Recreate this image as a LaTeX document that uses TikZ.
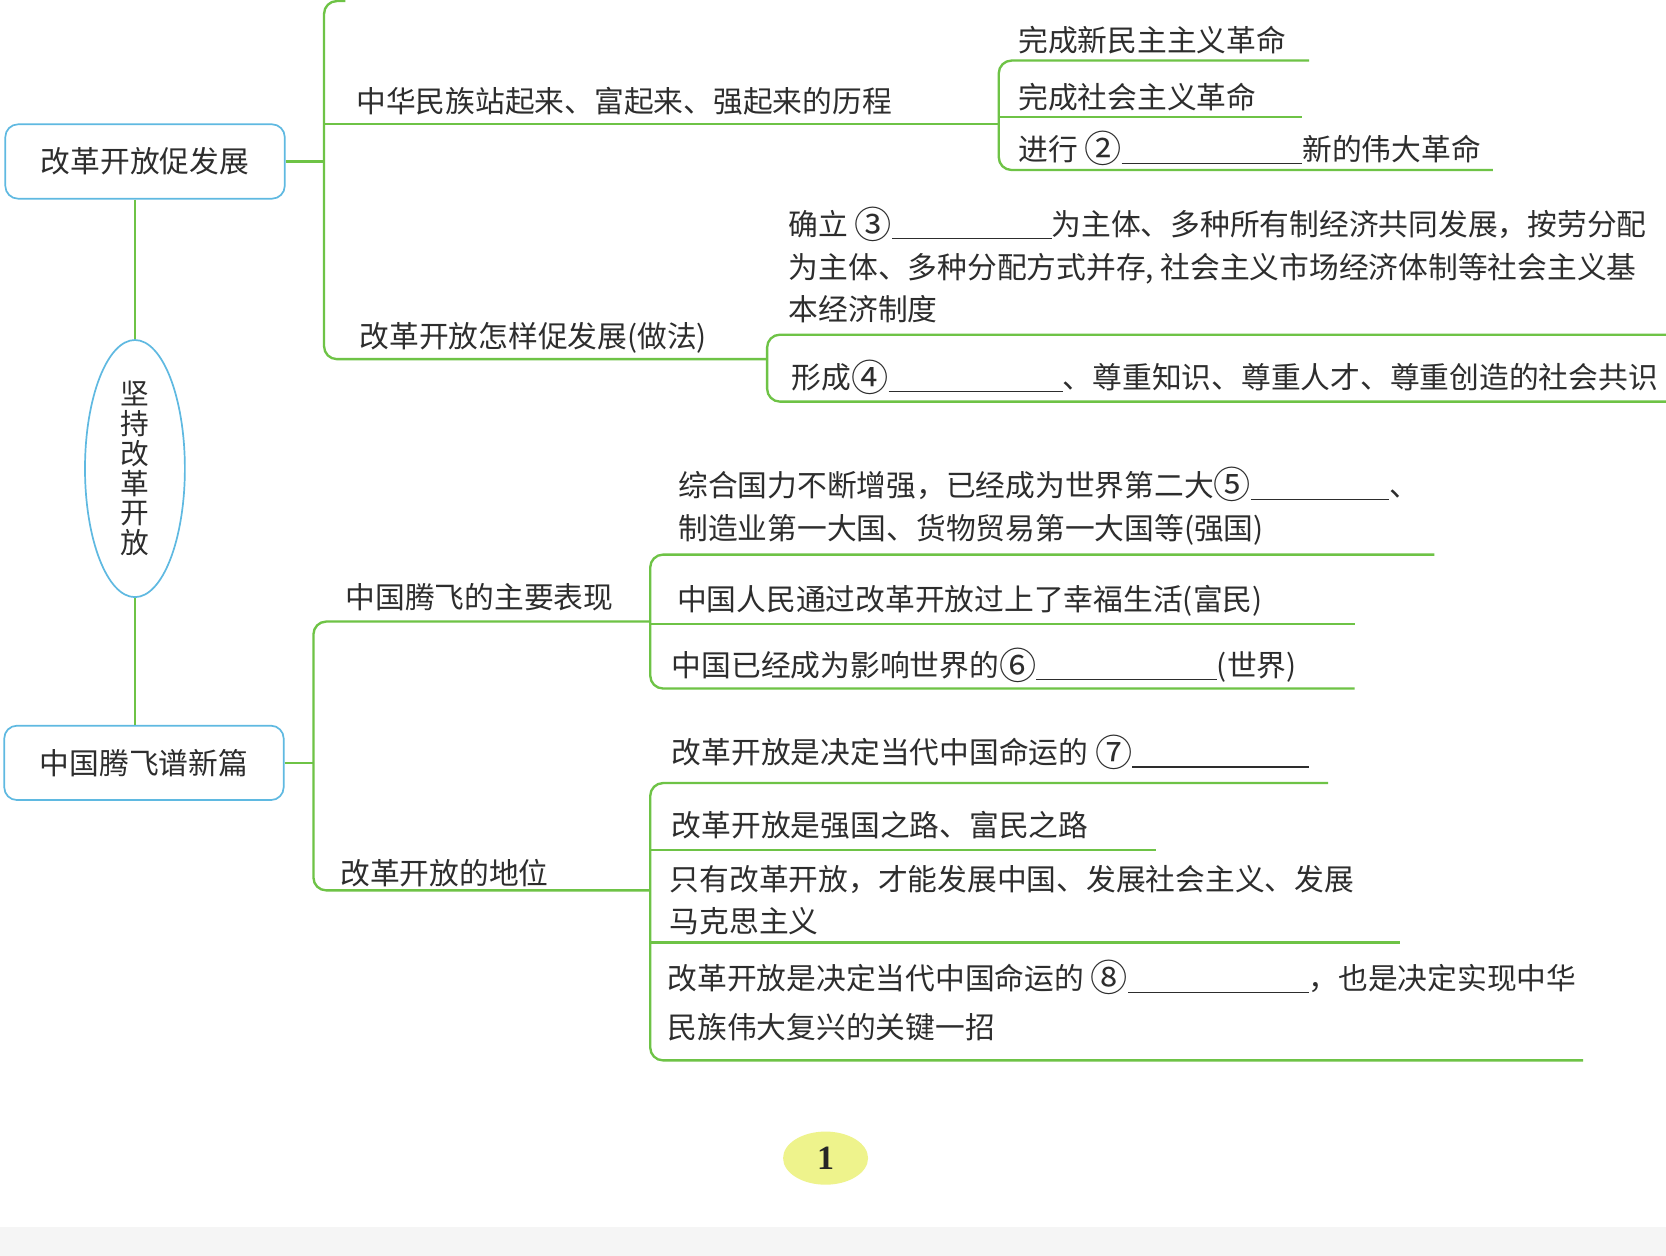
\documentclass[tikz,border=0pt]{standalone}
\usepackage{fontspec}
\newfontfamily\zh{Noto Sans CJK SC}
\newfontfamily\numfont{Liberation Serif}
\usetikzlibrary{shapes.geometric}
\definecolor{lgreen}{RGB}{110,195,70}
\definecolor{lblue}{RGB}{95,185,225}
\definecolor{txtc}{RGB}{45,45,45}
\definecolor{pgyellow}{RGB}{238,243,140}
\newcommand\zs{\rule[-0.12em]{0pt}{1em}}
\newcommand\blank[1]{\rule[-0.12em]{#1}{0.6pt}}
\newcommand\cnum[1]{\smash{\raisebox{-0.08em}{\scalebox{1.25}{#1}}}}
\begin{document}
\begin{tikzpicture}[x=0.5pt,y=-0.5pt,
  gl/.style={draw=lgreen, line width=1.1pt},
  topbox/.style={draw=lblue, line width=0.8pt, rounded corners=6pt, minimum width=131.5pt, minimum height=35pt, text=txtc, font=\zh\fontsize{14}{16}\selectfont},
  txt/.style={anchor=north west, inner sep=0pt, align=left, text=txtc, font=\zh\fontsize{14}{#1}\selectfont},
  txt/.default=20]
\useasboundingbox (0,0) rectangle (1568,1182);
\fill[white] (0,0) rectangle (1568,1182);
\fill[black!4] (0,1155) rectangle (1568,1182);

% main nodes
\node[topbox] (box1) at (136.5,152) {改革开放促发展};
\node[topbox] (box2) at (135.5,718) {中国腾飞谱新篇};
\node[draw=lblue, line width=0.8pt, ellipse, minimum width=47pt, minimum height=121pt, inner sep=0pt, align=center, text=txtc, font=\zh\fontsize{13.5}{14}\selectfont] (core) at (127,441) {坚\\持\\改\\革\\开\\放};

\draw[gl] (core.north |- box1.south) -- (core.north);
\draw[gl] (core.south) -- (core.south |- box2.north);

% branch A texts
\node[txt] (a1) at (335,81) {\zs 中华民族站起来、富起来、强起来的历程};
\node[txt] (a11) at (958,23) {\zs 完成新民主主义革命};
\node[txt] (a12) at (958,77) {\zs 完成社会主义革命};
\node[txt] (a13) at (958,126) {\zs 进行 \cnum{②}\blank{85pt}新的伟大革命};
\node[txt] (a2) at (338,302) {\zs 改革开放怎样促发展(做法)};
\node[txt=20] (a21) at (742,197) {\zs 确立 \cnum{③}\blank{75pt}为主体、多种所有制经济共同发展，按劳分配\\\zs 为主体、多种分配方式并存, 社会主义市场经济体制等社会主义基\\\zs 本经济制度};
\node[txt] (a22) at (745,341) {\zs 形成\cnum{④}\blank{82pt}、尊重知识、尊重人才、尊重创造的社会共识};

% branch B texts
\node[txt] (b1) at (325,548) {\zs 中国腾飞的主要表现};
\node[txt=20.5] (b11) at (638,442) {\zs 综合国力不断增强，已经成为世界第二大\cnum{⑤}\blank{65pt}、\\\zs 制造业第一大国、货物贸易第一大国等(强国)};
\node[txt] (b12) at (637,550) {\zs 中国人民通过改革开放过上了幸福生活(富民)};
\node[txt] (b13) at (632,612) {\zs 中国已经成为影响世界的\cnum{⑥}\blank{85pt}(世界)};
\node[txt] (b2) at (320,807) {\zs 改革开放的地位};
\node[txt] (b21) at (632,694) {\zs 改革开放是决定当代中国命运的 \cnum{⑦}\blank{83pt}};
\node[txt] (b22) at (632,762) {\zs 改革开放是强国之路、富民之路};
\node[txt=20] (b23) at (630,813) {\zs 只有改革开放，才能发展中国、发展社会主义、发展\\\zs 马克思主义};
\node[txt=23] (b24) at (628,906) {\zs 改革开放是决定当代中国命运的 \cnum{⑧}\blank{85pt}，也是决定实现中华\\\zs 民族伟大复兴的关键一招};

% branch A connectors
\coordinate (ja) at (305,152);
\coordinate (ja1) at (940,117);
\coordinate (ja2) at (722,338);
\draw[gl] (box1.east) -- (box1.east -| ja);
\draw[gl, rounded corners=6pt] (325,1) -- (305,1) -- (305,338) -- (ja2);
\draw[gl] (305,117) -- (ja1);
\draw[gl, rounded corners=6pt] (1232,57) -- (940,57) -- (940,160) -- (1405,160);
\draw[gl] (940,110) -- (1225,110);
\draw[gl, rounded corners=6pt] (1580,315) -- (722,315) -- (722,378) -- (1580,378);

% branch B connectors
\coordinate (jb) at (295,718);
\coordinate (jb1) at (612,585);
\coordinate (jb2) at (612,838);
\draw[gl] (box2.east) -- (box2.east -| jb);
\draw[gl, rounded corners=6pt] (jb1) -- (295,585) -- (295,838) -- (jb2);
\draw[gl, rounded corners=6pt] (1350,522) -- (612,522) -- (612,648) -- (1275,648);
\draw[gl] (612,587) -- (1275,587);
\draw[gl, rounded corners=6pt] (1250,737) -- (612,737) -- (612,998) -- (1490,998);
\draw[gl] (612,800) -- (1088,800);
\draw[gl] (612,887) -- (1318,887);

% page number
\node[ellipse, fill=pgyellow, minimum width=40pt, minimum height=25pt, inner sep=0pt, text=black!85, font=\numfont\bfseries\fontsize{16}{16}\selectfont] (pg) at (777,1090) {1};
\end{tikzpicture}
\end{document}
